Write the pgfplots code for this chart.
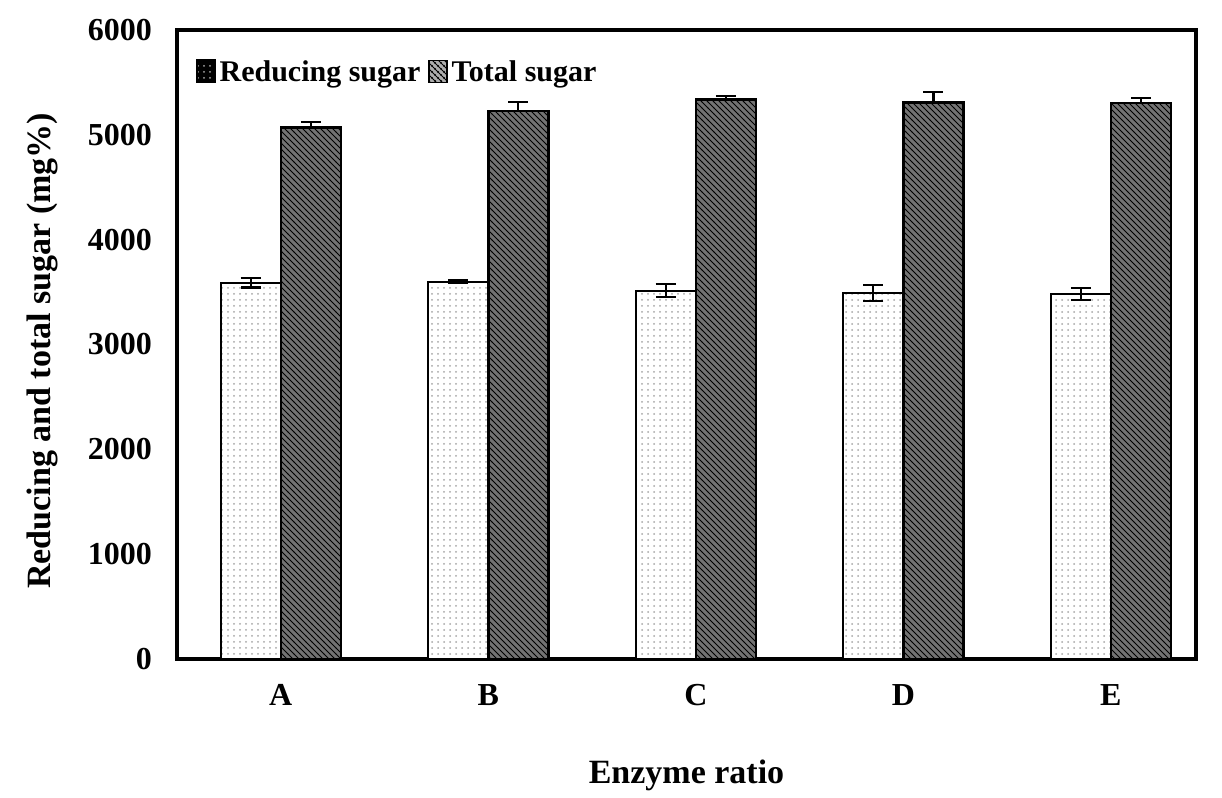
\documentclass[border=0pt]{standalone}
\usepackage{pgfplots}
\pgfplotsset{compat=1.18}
\usepackage{fontspec}
\setmainfont{Liberation Serif}
\usetikzlibrary{patterns}
\begin{document}
\begin{tikzpicture}
\begin{axis}[
  scale only axis,
  width=509.5pt, height=314.5pt,
  xmin=-0.5, xmax=4.41,
  ymin=0, ymax=6000,
  xtick={0,1,2,3,4},
  xticklabels={A,B,C,D,E},
  ytick={0,1000,2000,3000,4000,5000,6000},
  major tick length=0pt,
  axis line style={line width=1.6pt},
  tick label style={font=\fontsize{16}{18}\selectfont\bfseries},
  /pgf/number format/assume math mode=true,
  scaled y ticks=false,
  yticklabel style={/pgf/number format/1000 sep={}, xshift=-9pt},
  xticklabel style={yshift=-9pt},
  xlabel={Enzyme ratio},
  ylabel={Reducing and total sugar (mg\%)},
  label style={font=\fontsize{17}{19}\selectfont\bfseries},
  xlabel style={at={(axis description cs:0.5,0)}, anchor=center, yshift=-58pt},
  ylabel style={at={(axis description cs:-0.1325,0.49)}, anchor=center},
  legend style={at={(rel axis cs:0.012,0.965)}, anchor=north west, draw=none, fill=none,
    legend columns=2, font=\fontsize{15}{17}\selectfont\bfseries,
    /tikz/every even column/.append style={column sep=2pt}},
  legend cell align=left,
  ybar, bar width=0.29,
]
\addplot[draw=black, line width=1pt, fill=white,
  postaction={pattern=dots, pattern color=gray!70},
  bar shift=-0.145,
  error bars/.cd, y dir=both, y explicit,
  error bar style={line width=1.1pt, black},
  error mark options={rotate=90, mark size=5pt, line width=1.1pt, black},
  /pgfplots/legend image code/.code={\fill[black] (0pt,-5pt) rectangle (9pt,6pt);}
] coordinates {
  (0,3588) +- (0,45)
  (1,3600) +- (0,10)
  (2,3515) +- (0,65)
  (3,3493) +- (0,75)
  (4,3483) +- (0,55)
};
\addlegendentry{Reducing sugar}
\addplot[draw=black, line width=1.2pt, fill=black!55,
  postaction={pattern=north west lines, pattern color=black},
  bar shift=0.145,
  error bars/.cd, y dir=plus, y explicit,
  error bar style={line width=1.1pt, black},
  error mark options={rotate=90, mark size=5pt, line width=1.1pt, black},
  /pgfplots/legend image code/.code={\draw[line width=0.6pt, fill=gray!65, postaction={pattern=crosshatch dots}] (0pt,-5pt) rectangle (9pt,6pt);}
] coordinates {
  (0,5069) +- (0,55)
  (1,5226) +- (0,86)
  (2,5339) +- (0,35)
  (3,5307) +- (0,100)
  (4,5304) +- (0,50)
};
\addlegendentry{Total sugar}
\end{axis}
\pgfresetboundingbox
\path (current axis.south west) ++(-88.5pt,-69.5pt) rectangle ++(611pt,399pt);
\end{tikzpicture}
\end{document}
